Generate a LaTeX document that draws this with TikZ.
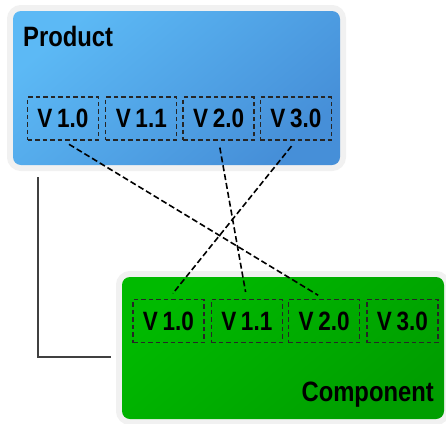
\documentclass[tikz,border=0pt]{standalone}
\usepackage{fontspec}
\usepackage{tikz}
\usepackage{xcolor}
\usetikzlibrary{
    calc,
    positioning
}
\newfontfamily\titlefont[FakeStretch=0.85]{Liberation Sans}
\newfontfamily\versionfont[FakeStretch=0.85, WordSpace=0.75]{Liberation Sans}
\definecolor{prodlight}{HTML}{5CB9F5}
\definecolor{proddark}{HTML}{468FD8}
\definecolor{complight}{HTML}{00BA00}
\definecolor{compdark}{HTML}{009E00}
\definecolor{glowgray}{HTML}{F1F1F1}
\tikzset{
    mainbox/.style={rectangle, rounded corners=8pt, inner sep=0pt,
        preaction={draw=glowgray, line width=12pt}},
    versionbox/.style={rectangle, draw=black!85, line width=1.3pt, dash pattern=on 4.5pt off 3pt,
        minimum width=71pt, minimum height=43pt, inner sep=0pt,
        font=\versionfont\bfseries\fontsize{26.5}{28}\selectfont},
    title/.style={font=\titlefont\bfseries\fontsize{28}{30}\selectfont, inner sep=0pt},
    link/.style={draw=black, dash pattern=on 6pt off 3pt, line width=1.6pt,
        shorten <=7pt, shorten >=7pt}
}

\begin{document}
\begin{tikzpicture}[x=1pt, y=-1pt]
                        \useasboundingbox (0, 0) rectangle (446, 423);
                        % product side
                        \node[mainbox, minimum width=327pt, minimum height=154pt,
                            top color=prodlight, bottom color=proddark, shading angle=40]
                            (product) at (176.5, 88) {};
                        \node[title, anchor=base west] (producttitle) at (23, 46) {Product};
                        \node[versionbox] (p10) at (63, 118.5) {V 1.0};
                        \node[versionbox, right=6pt of p10] (p11) {V 1.1};
                        \node[versionbox, right=5pt of p11] (p20) {V 2.0};
                        \node[versionbox, right=5pt of p20] (p30) {V 3.0};
                        % component side
                        \node[mainbox, minimum width=322pt, minimum height=142pt,
                            top color=complight, bottom color=compdark, shading angle=40]
                            (component) at (283, 348) {};
                        \node[title, anchor=base east] (componenttitle) at (434, 401) {Component};
                        \node[versionbox] (c10) at (168.5, 321) {V 1.0};
                        \node[versionbox, right=6pt of c10] (c11) {V 1.1};
                        \node[versionbox, right=5pt of c11] (c20) {V 2.0};
                        \node[versionbox, right=6pt of c20] (c30) {V 3.0};
                        % links
                        \draw[line width=1.5pt, black!75, shorten <=12pt, shorten >=11pt]
                            (product.south west -| 38, 0) |- (component.west |- 0, 357);
                        \draw[link] (p10.south) -- (c20.north);
                        \draw[link] (p20.south) -- (c11.north);
                        \draw[link] (p30.south) -- (c10.north);
                    \end{tikzpicture}
\end{document}
